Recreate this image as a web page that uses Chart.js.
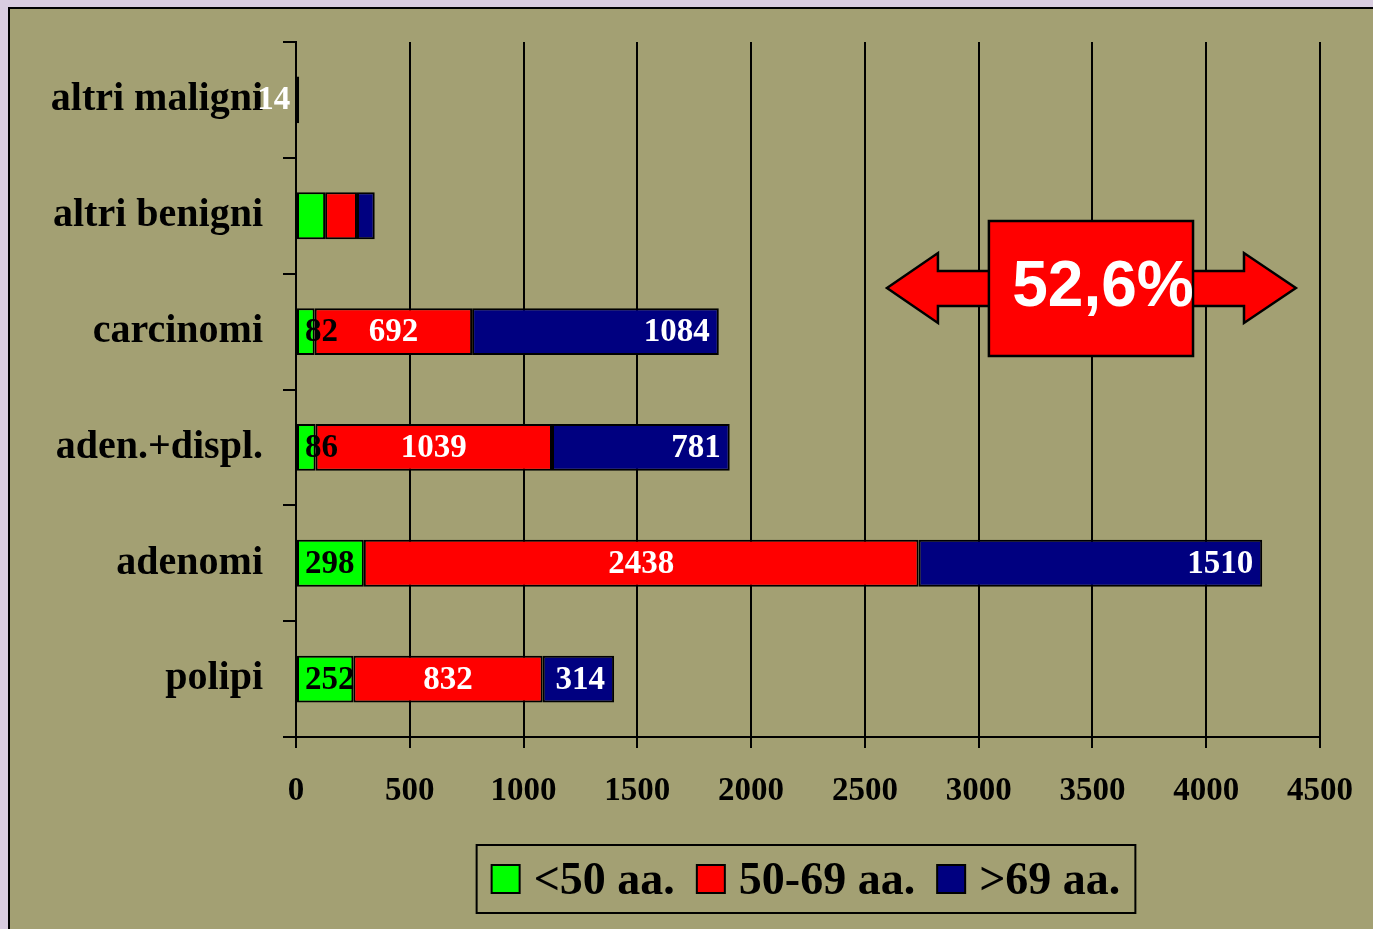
<!DOCTYPE html>
<html>
<head>
<meta charset="utf-8">
<title>Distribuzione per età</title>
<script src="https://cdn.jsdelivr.net/npm/chart.js@4"></script>
<style>
	html, body { margin: 0; padding: 0; background: #d9cde0; }
	#chart { display: block; }
</style>
</head>
<body>
<canvas id="chart" width="1373" height="929"></canvas>
<script>
// Data
const categories = ["altri maligni", "altri benigni", "carcinomi", "aden.+displ.", "adenomi", "polipi"];
const under50 = [0, 128, 82, 86, 298, 252];
const age50to69 = [0, 140, 692, 1039, 2438, 832];
const over69 = [14, 78, 1084, 781, 1510, 314];
const showValues = [true, false, true, true, true, true];
const seriesNames = ["<50 aa.", "50-69 aa.", ">69 aa."];
const seriesColors = ["#00ff00", "#ff0000", "#000080"];
const labelColors = ["#000000", "#ffffff", "#ffffff"];
const labelAnchors = ["start", "center", "end"];
const xTicks = [0, 500, 1000, 1500, 2000, 2500, 3000, 3500, 4000, 4500];
const highlightText = "52,6%";

const SERIF = "'Liberation Serif', 'Times New Roman', serif";
const SANS = "'Liberation Sans', Arial, sans-serif";

// Slide background: lavender frame with olive panel
const backgroundPlugin = {
	id: "slideBackground",
	beforeDraw(chart) {
		const ctx = chart.ctx;
		ctx.save();
		ctx.fillStyle = "#d9cde0";
		ctx.fillRect(0, 0, chart.width, chart.height);
		ctx.fillStyle = "#a3a073";
		ctx.fillRect(8, 7, chart.width - 8, chart.height - 7);
		ctx.strokeStyle = "#000";
		ctx.lineWidth = 2;
		ctx.beginPath();
		ctx.moveTo(9, chart.height);
		ctx.lineTo(9, 8);
		ctx.lineTo(chart.width, 8);
		ctx.stroke();
		ctx.restore();
	},
};

// Value labels inside the bar segments
const valueLabelPlugin = {
	id: "valueLabels",
	afterDatasetsDraw(chart) {
		const ctx = chart.ctx;
		ctx.save();
		ctx.font = "bold 33px " + SERIF;
		ctx.textBaseline = "middle";
		chart.data.datasets.forEach(function (ds, di) {
			const meta = chart.getDatasetMeta(di);
			meta.data.forEach(function (bar, i) {
				const v = ds.data[i];
				if (!showValues[i] || !v) return;
				const text = String(v);
				const left = Math.min(bar.x, bar.base);
				const right = Math.max(bar.x, bar.base);
				ctx.fillStyle = labelColors[di];
				if (labelAnchors[di] === "start") {
					ctx.textAlign = "left";
					ctx.fillText(text, left + 8, bar.y + 1);
				} else if (labelAnchors[di] === "end") {
					ctx.textAlign = "right";
					ctx.fillText(text, right - 9, bar.y + 1);
				} else {
					ctx.textAlign = "center";
					ctx.fillText(text, (left + right) / 2, bar.y + 1);
				}
			});
		});
		ctx.restore();
	},
};

// Red double arrow with the percentage box
const highlightPlugin = {
	id: "highlight",
	afterDraw(chart) {
		const ctx = chart.ctx;
		const x = chart.scales.x;
		const tipL = x.getPixelForValue(2597);
		const baseL = x.getPixelForValue(2821);
		const boxL = x.getPixelForValue(3045);
		const boxR = x.getPixelForValue(3942);
		const baseR = x.getPixelForValue(4166);
		const tipR = x.getPixelForValue(4394);
		const cy = 288;
		ctx.save();
		ctx.fillStyle = "#ff0000";
		ctx.strokeStyle = "#000";
		ctx.lineWidth = 2.5;
		ctx.lineJoin = "miter";
		ctx.beginPath();
		ctx.moveTo(tipL, cy);
		ctx.lineTo(baseL, cy - 35);
		ctx.lineTo(baseL, cy - 17);
		ctx.lineTo(baseR, cy - 17);
		ctx.lineTo(baseR, cy - 35);
		ctx.lineTo(tipR, cy);
		ctx.lineTo(baseR, cy + 35);
		ctx.lineTo(baseR, cy + 18);
		ctx.lineTo(baseL, cy + 18);
		ctx.lineTo(baseL, cy + 35);
		ctx.closePath();
		ctx.fill();
		ctx.stroke();
		ctx.beginPath();
		ctx.rect(boxL, 221, boxR - boxL, 135);
		ctx.fill();
		ctx.stroke();
		ctx.fillStyle = "#fff";
		ctx.font = "bold 64px " + SANS;
		ctx.textAlign = "center";
		ctx.textBaseline = "middle";
		ctx.fillText(highlightText, (boxL + boxR) / 2 + 12, cy);
		ctx.restore();
	},
};

// Boxed legend under the plot
const legendPlugin = {
	id: "boxLegend",
	afterDraw(chart) {
		const ctx = chart.ctx;
		const area = chart.chartArea;
		ctx.save();
		ctx.font = "bold 46px " + SERIF;
		const sw = 28, gapText = 14, gapItem = 22, padX = 15;
		const widths = seriesNames.map(function (n) { return ctx.measureText(n).width; });
		let total = padX * 2;
		widths.forEach(function (w, i) {
			total += sw + gapText + w + (i < widths.length - 1 ? gapItem : 0);
		});
		const cx = (area.left + area.right) / 2 - 2;
		const left = cx - total / 2;
		const top = 845, h = 68;
		ctx.strokeStyle = "#000";
		ctx.lineWidth = 2;
		ctx.strokeRect(left, top, total, h);
		let xPos = left + padX;
		const cy = top + h / 2;
		seriesNames.forEach(function (n, i) {
			ctx.fillStyle = seriesColors[i];
			ctx.fillRect(xPos, cy - 14, sw, sw);
			ctx.strokeRect(xPos, cy - 14, sw, sw);
			xPos += sw + gapText;
			ctx.fillStyle = "#000";
			ctx.textBaseline = "middle";
			ctx.textAlign = "left";
			ctx.fillText(n, xPos, cy + 3);
			xPos += widths[i] + gapItem;
		});
		ctx.restore();
	},
};

const seriesData = [under50, age50to69, over69];

new Chart(document.getElementById("chart"), {
	type: "bar",
	data: {
		labels: categories,
		datasets: seriesNames.map(function (name, i) {
			return {
				label: name,
				data: seriesData[i].map(function (v) { return v === 0 ? null : v; }),
				backgroundColor: seriesColors[i],
				borderColor: "#000",
				borderWidth: 2,
				borderSkipped: false,
				barPercentage: 0.405,
				categoryPercentage: 1,
			};
		}),
	},
	options: {
		indexAxis: "y",
		responsive: false,
		animation: false,
		layout: {
			padding: { top: 42, right: 53, left: 0, bottom: 0 },
		},
		plugins: {
			legend: { display: false },
			tooltip: { enabled: false },
		},
		scales: {
			x: {
				stacked: true,
				min: 0,
				max: 4500,
				afterBuildTicks(scale) {
					scale.ticks = xTicks.map(function (v) { return { value: v }; });
				},
				afterFit(scale) {
					scale.height = 192;
					scale.paddingLeft = 0;
					scale.paddingRight = 0;
				},
				ticks: {
					color: "#000",
					font: { family: SERIF, size: 33, weight: "bold" },
					padding: 24,
					maxRotation: 0,
					callback: function (v) { return String(v); },
				},
				grid: {
					color: "#000",
					lineWidth: 2,
					tickLength: 11,
				},
				border: { color: "#000", width: 2 },
			},
			y: {
				stacked: true,
				afterFit(scale) {
					scale.width = 296;
					scale.paddingTop = 0;
					scale.paddingBottom = 0;
				},
				ticks: {
					color: "#000",
					font: { family: SERIF, size: 40, weight: "bold" },
					padding: 20,
				},
				grid: {
					drawOnChartArea: false,
					color: "#000",
					lineWidth: 2,
					tickLength: 13,
					offset: true,
				},
				border: { color: "#000", width: 2 },
			},
		},
	},
	plugins: [backgroundPlugin, valueLabelPlugin, highlightPlugin, legendPlugin],
});
</script>
</body>
</html>
